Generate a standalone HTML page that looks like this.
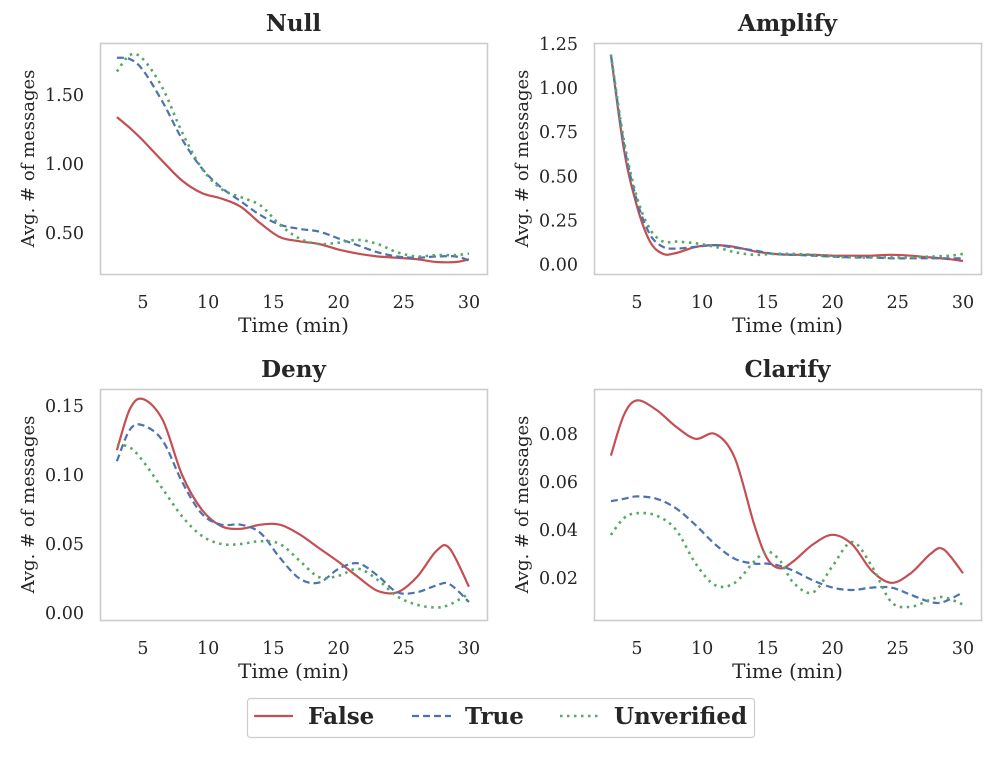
<!DOCTYPE html>
<html><head><meta charset="utf-8"><style>
body{margin:0;background:#fff;}
svg text{font-family:"DejaVu Serif","Liberation Serif",serif;fill:#262626;}
</style></head><body>
<svg id="chart" width="1000" height="760" xmlns="http://www.w3.org/2000/svg">
<g id="root"></g>
<g>
<rect x="247.5" y="698.5" width="507" height="39" rx="3" fill="#fff" stroke="#ccc" stroke-width="1.2"/>
<g><line x1="254" y1="716" x2="293" y2="716" stroke="#c44e52" stroke-width="2.2"/><text x="308" y="724" font-size="23" font-weight="bold">False</text></g>
<g><line x1="412" y1="716" x2="451" y2="716" stroke="#4c72b0" stroke-width="2.2" stroke-dasharray="7,4"/><text x="465" y="724" font-size="23" font-weight="bold">True</text></g>
<g><line x1="560" y1="716" x2="599" y2="716" stroke="#55a868" stroke-width="2.6" stroke-dasharray="2.5,4.5"/><text x="614" y="724" font-size="23" font-weight="bold">Unverified</text></g>
</g>
</svg>
<script>
const nullTimes=[3,4,5,6.5,8,9.5,11,12.5,14,15.5,17,18.5,20,21.5,23,24.5,26,27.5,29,30];
const nullFalse=[1.34,1.26,1.17,1.02,0.88,0.79,0.75,0.69,0.57,0.47,0.44,0.42,0.38,0.35,0.33,0.32,0.31,0.29,0.29,0.31];
const nullTrue=[1.77,1.76,1.68,1.45,1.18,0.97,0.83,0.73,0.63,0.56,0.53,0.51,0.46,0.41,0.36,0.33,0.32,0.33,0.33,0.30];
const nullUnverified=[1.67,1.79,1.76,1.55,1.23,0.97,0.82,0.76,0.70,0.56,0.46,0.42,0.43,0.45,0.42,0.36,0.33,0.34,0.34,0.35];
const nullTicks=[0.5,1.0,1.5];
const ampTimes=[3,4,5,6,7,8,9.5,11,12.5,14,15.5,17,18.5,20,21.5,23,24.5,26,27.5,29,30];
const ampFalse=[1.19,0.65,0.33,0.13,0.06,0.065,0.10,0.11,0.10,0.075,0.06,0.055,0.055,0.05,0.05,0.05,0.055,0.05,0.04,0.03,0.02];
const ampTrue=[1.19,0.68,0.36,0.17,0.10,0.09,0.10,0.11,0.095,0.08,0.06,0.055,0.05,0.045,0.04,0.04,0.035,0.035,0.035,0.035,0.035];
const ampUnverified=[1.19,0.70,0.38,0.20,0.13,0.13,0.12,0.10,0.07,0.055,0.06,0.06,0.055,0.045,0.04,0.04,0.04,0.04,0.045,0.05,0.06];
const ampTicks=[0,0.25,0.5,0.75,1.0,1.25];
const denyTimes=[3,4,5,6.5,8,9.5,11,12.5,14,15.5,17,18.5,20,21.5,23,24.5,26,27.5,28.5,30];
const denyFalse=[0.118,0.148,0.155,0.14,0.10,0.075,0.063,0.061,0.064,0.064,0.057,0.047,0.037,0.026,0.016,0.015,0.026,0.045,0.047,0.019];
const denyTrue=[0.11,0.133,0.136,0.125,0.095,0.072,0.064,0.064,0.058,0.04,0.025,0.022,0.032,0.036,0.027,0.015,0.015,0.02,0.021,0.008];
const denyUnverified=[0.122,0.12,0.11,0.09,0.07,0.056,0.05,0.05,0.052,0.05,0.038,0.026,0.027,0.032,0.024,0.012,0.006,0.004,0.006,0.014];
const denyTicks=[0,0.05,0.1,0.15];
const clarTimes=[3,4,5,6.5,8,9.5,11,12.5,14,15,16,17,18.5,20,21.5,23,24.5,26,27.5,28.5,30];
const clarFalse=[0.071,0.088,0.094,0.09,0.083,0.078,0.08,0.07,0.042,0.028,0.024,0.027,0.034,0.038,0.034,0.023,0.018,0.022,0.03,0.032,0.022];
const clarTrue=[0.052,0.053,0.054,0.053,0.049,0.042,0.034,0.028,0.026,0.026,0.025,0.023,0.019,0.016,0.015,0.016,0.016,0.013,0.010,0.010,0.014];
const clarUnverified=[0.038,0.045,0.047,0.046,0.04,0.026,0.017,0.018,0.027,0.031,0.027,0.018,0.014,0.025,0.035,0.025,0.01,0.008,0.011,0.012,0.009];
const clarTicks=[0.02,0.04,0.06,0.08];
const xTicks=[5,10,15,20,25,30];

const NS="http://www.w3.org/2000/svg";
const root=document.getElementById('root');
function mk(tag,attrs,parent){const e=document.createElementNS(NS,tag);for(const k in attrs)e.setAttribute(k,attrs[k]);parent.appendChild(e);return e;}
function smooth(pts){let d='M'+pts[0][0].toFixed(1)+','+pts[0][1].toFixed(1);
for(let i=0;i<pts.length-1;i++){const p0=pts[Math.max(0,i-1)],p1=pts[i],p2=pts[i+1],p3=pts[Math.min(pts.length-1,i+2)];
const c1=[p1[0]+(p2[0]-p0[0])/6,p1[1]+(p2[1]-p0[1])/6],c2=[p2[0]-(p3[0]-p1[0])/6,p2[1]-(p3[1]-p1[1])/6];
d+='C'+c1[0].toFixed(1)+','+c1[1].toFixed(1)+' '+c2[0].toFixed(1)+','+c2[1].toFixed(1)+' '+p2[0].toFixed(1)+','+p2[1].toFixed(1);}return d;}
const styles=[{c:'#c44e52',dash:'',w:2.2,n:'false'},{c:'#4c72b0',dash:'7,4',w:2.2,n:'true'},{c:'#55a868',dash:'2.5,4.5',w:2.6,n:'unverified'}];
function panel(cfg){
  const g=mk('g',{},root);
  
  
  const L=cfg.x0,R=cfg.x0+387,T=cfg.y0,B=cfg.y0+231;
  const xs=t=>L+43+(t-5)*13.04;
  const ys=v=>cfg.yBase-(v-cfg.yRef)*cfg.yScale;
  const t=mk('text',{x:(L+R)/2,y:T-12,'font-size':23,'font-weight':'bold','text-anchor':'middle'},g);t.textContent=cfg.title;
  
  
  cfg.ticks.forEach(v=>{const tx=mk('text',{x:L-16,y:ys(v)+6,'font-size':17.5,'text-anchor':'end'},g);tx.textContent=v.toFixed(2);
    
    });
  xTicks.forEach(v=>{const tx=mk('text',{x:xs(v),y:B+34,'font-size':17.5,'text-anchor':'middle'},g);tx.textContent=v;
    
    });
  const xl=mk('text',{x:(L+R)/2,y:B+58,'font-size':20,'text-anchor':'middle'},g);xl.textContent='Time (min)';
  
  
  const yc=(T+B)/2,ylx=L-66;
  const yl=mk('text',{x:ylx,y:yc,'font-size':18,'text-anchor':'middle',transform:'rotate(-90 '+ylx+' '+yc+')'},g);yl.textContent='Avg. # of messages';
  
  
  cfg.series.forEach((vals,i)=>{const s=styles[i];
    const pts=cfg.times.map((tt,j)=>[xs(tt),ys(vals[j])]);
    const p=mk('path',{d:smooth(pts),fill:'none',stroke:s.c,'stroke-width':s.w,'stroke-dasharray':s.dash},g);
    
    });
  const fr=mk('rect',{x:L+.5,y:T+.5,width:R-L,height:B-T,fill:'none',stroke:'#cccccc','stroke-width':1.6},g);
  
  
}
panel({key:'null',title:'Null',x0:100,y0:43,yBase:233,yRef:0.5,yScale:138,ticks:nullTicks,times:nullTimes,series:[nullFalse,nullTrue,nullUnverified]});
panel({key:'amplify',title:'Amplify',x0:594,y0:43,yBase:264.5,yRef:0,yScale:176.4,ticks:ampTicks,times:ampTimes,series:[ampFalse,ampTrue,ampUnverified]});
panel({key:'deny',title:'Deny',x0:100,y0:389,yBase:613,yRef:0,yScale:1380,ticks:denyTicks,times:denyTimes,series:[denyFalse,denyTrue,denyUnverified]});
panel({key:'clarify',title:'Clarify',x0:594,y0:389,yBase:578,yRef:0.02,yScale:2400,ticks:clarTicks,times:clarTimes,series:[clarFalse,clarTrue,clarUnverified]});
</script>
</body></html>
